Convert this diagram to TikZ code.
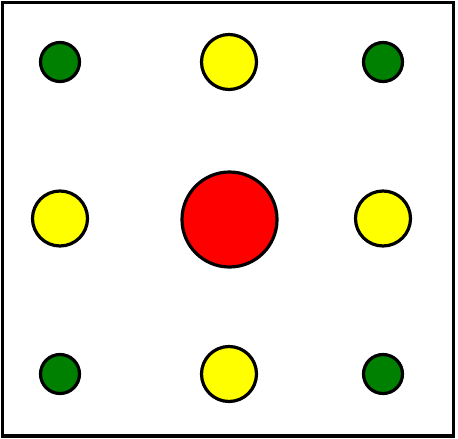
\documentclass[tikz,border=0pt]{standalone}
\usepackage{xcolor}
\definecolor{dgreen}{RGB}{0,128,0}
\definecolor{pyellow}{RGB}{255,255,0}
\definecolor{pred}{RGB}{255,0,0}

\begin{document}
\begin{tikzpicture}[x=1pt,y=-1pt,c/.style={circle,draw,line width=3.2pt,inner sep=0pt},sm/.style={c,fill=dgreen,minimum size=39pt},md/.style={c,fill=pyellow,minimum size=55pt},lg/.style={c,fill=pred,minimum size=95pt}]
\useasboundingbox (0,0) rectangle (458,439);
\node[draw,line width=3.8pt,minimum width=451pt,minimum height=433.5pt,inner sep=0pt] (frame) at (228,219.25) {};
\node[sm] (gtl) at (60,62) {};
\node[md] (yt) at (229,62) {};
\node[sm] (gtr) at (383,62) {};
\node[md] (yl) at (60,218.5) {};
\node[lg] (r) at (229.5,219.5) {};
\node[md] (yr) at (383,218.5) {};
\node[sm] (gbl) at (60,374) {};
\node[md] (yb) at (229,374) {};
\node[sm] (gbr) at (383,374) {};
\end{tikzpicture}
\end{document}
